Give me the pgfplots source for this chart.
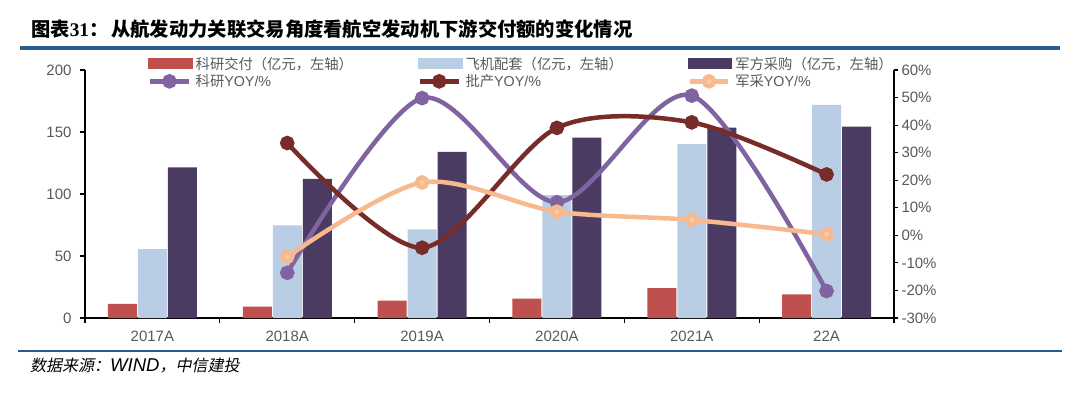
\documentclass[border=0pt]{standalone}
\usepackage{fontspec}
\setmainfont{Liberation Sans}
\newfontfamily\cjk{Noto Sans CJK SC}
\newfontfamily\cjkit[FakeSlant=0.2]{Noto Sans CJK SC}
\newfontfamily\serifb{Liberation Serif}
\usepackage{pgfplots}
\usepackage{pgfplotstable}
\pgfplotsset{compat=1.18}
\pgfplotsset{linelegend/.style={legend image code/.code={\draw[mark repeat=2,mark phase=2,##1] plot coordinates {(0pt,0pt) (19pt,0pt) (38pt,0pt)};}}}
\definecolor{cRed}{HTML}{C0504D}
\definecolor{cLBlue}{HTML}{B9CDE5}
\definecolor{cDark}{HTML}{4B3A62}
\definecolor{cPurple}{HTML}{8064A2}
\definecolor{cBrown}{HTML}{772C2A}
\definecolor{cOrange}{HTML}{F7BA8E}
\definecolor{cGray}{HTML}{595959}
\definecolor{cRule}{HTML}{2B5B8C}
\pgfplotstableread{
x red blue dark
0 11.3 55.6 121.5
1 9.1 74.7 112.3
2 14.0 71.5 133.9
3 15.6 99.0 145.4
4 24.0 140.3 153.5
5 19.1 171.8 154.3
}\bars
\pgfplotstableread{
x ky pc jc
1 -13.6 33.5 -7.8
2 49.8 -4.5 19.2
3 12.0 39.0 8.6
4 50.7 41.0 5.6
5 -20.2 22.1 0.4
}\yoy
\begin{document}
\begin{tikzpicture}[x=1pt,y=1pt]
\useasboundingbox (0,0) rectangle (1080,392);
\node[anchor=west, inner sep=0pt, font=\cjk\bfseries\fontsize{19.3}{22}\selectfont] at (31,363) {图表{\serifb\bfseries 31}：\hspace{3pt}从航发动力关联交易角度看航空发动机下游交付额的变化情况};
\fill[cRule] (20,341.7) rectangle (1060,345.7);
\fill[cRule] (18,40.5) rectangle (1062,42);
\node[anchor=west, inner sep=0pt] at (30,26.3) {{\cjkit\fontsize{16}{18}\selectfont 数据来源：}{\itshape\fontsize{18.5}{20}\selectfont WIND}{\cjkit\fontsize{16}{18}\selectfont ，中信建投}};
\begin{axis}[at={(85pt,74pt)}, anchor=south west, scale only axis,
  width=809pt, height=248pt,
  xmin=-0.5, xmax=5.5, ymin=0, ymax=200,
  axis x line*=bottom, axis y line*=left,
  axis line style={-, line width=1.3pt, black},
  xtick={0,...,5}, xticklabels={2017A,2018A,2019A,2020A,2021A,22A},
  major x tick style={draw=none},
  minor xtick={-0.5,0.5,...,5.5},
  ytick={0,50,...,200},
  tick align=outside, major tick length=5pt, minor tick length=5pt,
  tick style={black, line width=1.2pt},
  every tick label/.append style={font=\fontsize{15}{17}\selectfont, text=cGray},
  y tick label style={xshift=-5pt},
  x tick label style={yshift=-4pt},
  /pgf/number format/assume math mode=true,
  clip=false]
\addplot[ybar, bar width=29pt, bar shift=-30pt, fill=cRed, draw=none] table[x=x,y=red]{\bars};
\addplot[ybar, bar width=29pt, bar shift=0pt, fill=cLBlue, draw=none] table[x=x,y=blue]{\bars};
\addplot[ybar, bar width=29pt, bar shift=30pt, fill=cDark, draw=none] table[x=x,y=dark]{\bars};
\end{axis}
\begin{axis}[at={(85pt,74pt)}, anchor=south west, scale only axis,
  width=809pt, height=248pt,
  xmin=-0.5, xmax=5.5, ymin=-30, ymax=60,
  axis x line=none, axis y line*=right,
  axis line style={-, line width=1.3pt, black},
  ytick={-30,-20,...,60},
  yticklabel={\pgfmathprintnumber{\tick}\%},
  tick align=outside, major tick length=4pt,
  tick style={black, line width=1.2pt},
  every tick label/.append style={font=\fontsize{15}{17}\selectfont, text=cGray},
  /pgf/number format/assume math mode=true,
  legend columns=3, legend cell align=left,
  legend style={at={(axis description cs:0.0779,1.058)}, anchor=north west,
    draw=none, fill=none, inner sep=0pt, row sep=2pt,
    font=\fontsize{14.3}{16}\selectfont, text=cGray,
    nodes={inner sep=1pt},
    /tikz/every odd column/.append style={column sep=2pt},
    /tikz/every even column/.append style={column sep=64pt}},
  every axis plot/.append style={line width=4.5pt, smooth},
  clip=false]
\addlegendimage{legend image code/.code={\fill[cRed] (0pt,-3.5pt) rectangle (40pt,3.5pt);}}
\addlegendentry{\cjk 科研交付（亿元，左轴）}
\addlegendimage{legend image code/.code={\fill[cLBlue] (0pt,-3.5pt) rectangle (40pt,3.5pt);}}
\addlegendentry{\cjk 飞机配套（亿元，左轴）}
\addlegendimage{legend image code/.code={\fill[cDark] (0pt,-3.5pt) rectangle (40pt,3.5pt);}}
\addlegendentry{\cjk 军方采购（亿元，左轴）}
\addplot[color=cPurple, mark=*, mark options={solid, draw=none, fill=cPurple}, mark size=5pt, linelegend]
  table[x=x,y=ky]{\yoy};
\addlegendentry{{\cjk 科研}YOY/\%}
\addplot[color=cBrown, mark=*, mark options={solid, draw=none, fill=cBrown}, mark size=5pt, linelegend]
  table[x=x,y=pc]{\yoy};
\addlegendentry{{\cjk 批产}YOY/\%}
\addplot[color=cOrange, mark=*, mark options={solid, draw=none, fill=cOrange!75!white}, mark size=5pt, linelegend]
  table[x=x,y=jc]{\yoy};
\addlegendentry{{\cjk 军采}YOY/\%}
\end{axis}
\end{tikzpicture}
\end{document}
